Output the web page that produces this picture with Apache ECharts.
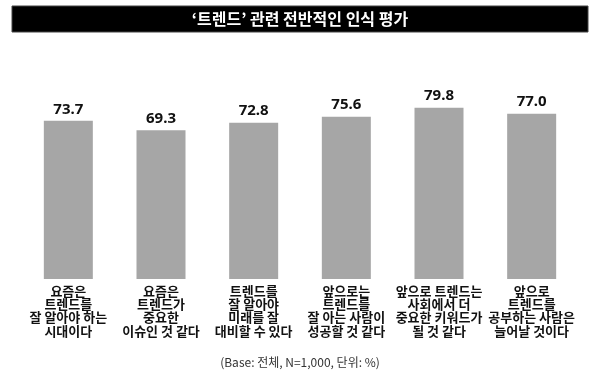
<!DOCTYPE html>
<html><head><meta charset="utf-8">
<script src="https://cdn.jsdelivr.net/npm/echarts@6/dist/echarts.min.js"></script>
<style>html,body{margin:0;padding:0;background:#fff}#c{width:600px;height:384px}</style>
</head><body><div id="c"></div>
<script>
const titleText = "‘트렌드’ 관련 전반적인 인식 평가";
const categories = [
  "요즘은\n트렌드를\n잘 알아야 하는\n시대이다",
  "요즘은\n트렌드가\n중요한\n이슈인 것 같다",
  "트렌드를\n잘 알아야\n미래를 잘\n대비할 수 있다",
  "앞으로는\n트렌드를\n잘 아는 사람이\n성공할 것 같다",
  "앞으로 트렌드는\n사회에서 더\n중요한 키워드가\n될 것 같다",
  "앞으로\n트렌드를\n공부하는 사람은\n늘어날 것이다"
];
const values = [73.7, 69.3, 72.8, 75.6, 79.8, 77.0];
const footnote = "(Base: 전체, N=1,000, 단위: %)";

const chart = echarts.init(document.getElementById('c'), null, {renderer: 'canvas'});
chart.setOption({
  animation: false,
  backgroundColor: '#fff',
  graphic: [
    {type: 'rect', shape: {x: 12, y: 6, width: 576, height: 26}, style: {fill: '#000', stroke: '#444', lineWidth: 1}},
    {type: 'text', x: 300, y: 19, style: {text: titleText, fill: '#fff', font: 'bold 16px "Noto Sans CJK KR"', align: 'center', verticalAlign: 'middle'}},
    {type: 'text', x: 300, y: 362, style: {text: footnote, fill: '#333', font: '12px "Noto Sans CJK KR"', align: 'center', verticalAlign: 'middle'}}
  ],
  grid: {left: 22, right: 22, top: 64.3, bottom: 105, containLabel: false},
  xAxis: {
    type: 'category', data: categories,
    axisLine: {show: false}, axisTick: {show: false},
    axisLabel: {interval: 0, color: '#111', fontFamily: 'Noto Sans CJK KR', fontWeight: 'bold', fontSize: 13, lineHeight: 13.4, margin: 5}
  },
  yAxis: {type: 'value', min: 0, max: 100, show: false, splitLine: {show: false}},
  series: [{
    type: 'bar', data: values, barWidth: 49,
    itemStyle: {color: '#a6a6a6'},
    label: {show: true, position: 'top', distance: 4, formatter: p => p.value.toFixed(1), color: '#111', fontFamily: 'Noto Sans', fontWeight: 'bold', fontSize: 15}
  }]
});
</script></body></html>
